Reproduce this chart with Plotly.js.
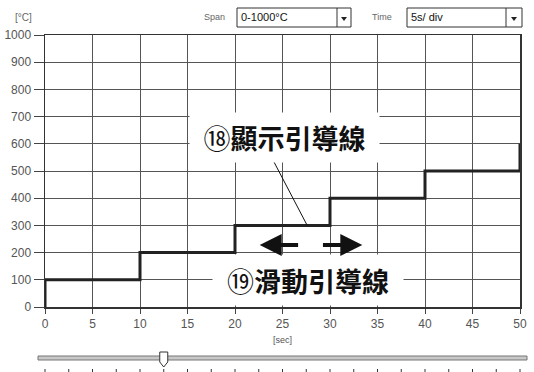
<!DOCTYPE html>
<html>
<head>
<meta charset="utf-8">
<script src="https://cdn.plot.ly/plotly-3.0.1.min.js"></script>
<style>
  html, body { margin: 0; padding: 0; background: #fff; }
  #chart { width: 534px; height: 372px; }
</style>
</head>
<body>
<div id="chart"></div>
<script>
// step profile (sec / degC)
const stepTimes = [0, 0, 10, 20, 30, 40, 50, 50];
const stepTemps = [0, 100, 200, 300, 400, 500, 500, 600];

// dropdown texts
const spanLabel = 'Span';
const spanValue = '0-1000°C';
const timeLabel = 'Time';
const timeValue = '5s/ div';

// callout texts
const cursorNum = '⑱', cursorText = '顯示引導線';
const sliderNum = '⑲', sliderText = '滑動引導線';

// slider scale (sec) and current thumb position
const sliderTicks = [0, 2.5, 5, 7.5, 10, 12.5, 15, 17.5, 20, 22.5, 25, 27.5, 30, 32.5, 35, 37.5, 40, 42.5, 45, 47.5, 50];
const sliderPos = 12.5;

// plot area in pixels: left 45, right 520, top 35, bottom 307
const L = 45, R = 520, T = 35, B = 307;
const px = p => (p - L) / (R - L);
const py = q => (B - q) / (B - T);

const trace = {
    x: stepTimes,
    y: stepTemps,
    mode: 'lines',
    line: { color: '#222', width: 3, shape: 'hv' },
    hoverinfo: 'x+y'
};

const shapes = [];
const annotations = [];
const labelFamily = 'Liberation Sans, Arial, sans-serif';

// plain paper-positioned text
function label(x, y, text, size, color) {
    annotations.push({ xref: 'paper', yref: 'paper', x: px(x), y: py(y),
        xanchor: 'center', yanchor: 'middle', showarrow: false, text: text,
        font: { family: labelFamily, size: size, color: color } });
}

// dropdown boxes
function dropdown(x0, x1, xdiv, name, nameX, value) {
    shapes.push({ type: 'rect', xref: 'paper', yref: 'paper',
        x0: px(x0), x1: px(x1), y0: py(27), y1: py(8),
        line: { color: '#333', width: 1 }, fillcolor: '#fff' });
    shapes.push({ type: 'line', xref: 'paper', yref: 'paper',
        x0: px(xdiv), x1: px(xdiv), y0: py(27), y1: py(8),
        line: { color: '#333', width: 1 } });
    const cx = (xdiv + x1) / 2;
    shapes.push({ type: 'path', xref: 'paper', yref: 'paper',
        path: `M ${px(cx - 3)},${py(17)} L ${px(cx + 3)},${py(17)} L ${px(cx)},${py(21)} Z`,
        fillcolor: '#222', line: { width: 0 } });
    annotations.push({ xref: 'paper', yref: 'paper', x: px(x0 + 2), y: py(17.5),
        xanchor: 'left', yanchor: 'middle', showarrow: false, text: value,
        font: { family: labelFamily, size: 11, color: '#111' } });
    label(nameX, 17, name, 9, '#666');
}
dropdown(237, 351, 337, spanLabel, 214, spanValue);
dropdown(407, 522, 506, timeLabel, 382, timeValue);

// axis unit labels
label(23, 17, '[°C]', 10, '#666');
label(282, 340, '[sec]', 9, '#555');

// leader line from the callout to the step line
shapes.push({ type: 'line', xref: 'x', yref: 'y', x0: 24.0, y0: 540, x1: 27.6, y1: 300,
    line: { color: '#111', width: 1 } });

// callout boxes
const calloutFont = { family: 'Noto Sans CJK TC, sans-serif', size: 27, color: '#111' };
annotations.push({ xref: 'paper', yref: 'paper', x: px(284), y: py(137.5),
    xanchor: 'center', yanchor: 'middle', showarrow: false,
    text: cursorNum + '<b>' + cursorText + '</b>',
    bgcolor: '#fff', width: 189, height: 49, borderpad: 0, font: calloutFont });
annotations.push({ xref: 'paper', yref: 'paper', x: px(308), y: py(280),
    xanchor: 'center', yanchor: 'middle', showarrow: false,
    text: sliderNum + '<b>' + sliderText + '</b>',
    bgcolor: '#fff', width: 190, height: 50, borderpad: 0, font: calloutFont });

// slide direction arrows
[[26.8, 22.6], [29.1, 33.4]].forEach(([tail, tip]) => {
    annotations.push({ xref: 'x', yref: 'y', axref: 'x', ayref: 'y',
        x: tip, y: 228, ax: tail, ay: 228, text: '', showarrow: true,
        arrowhead: 2, arrowsize: 1.1, arrowwidth: 4, arrowcolor: '#111' });
});

// slider rail
shapes.push({ type: 'rect', xref: 'paper', yref: 'paper',
    x0: px(38), x1: px(527), y0: py(360), y1: py(356),
    fillcolor: '#c8c8c8', line: { color: '#777', width: 1 } });
// slider ticks
sliderTicks.forEach(t => {
    const xp = t / 50;
    shapes.push({ type: 'line', xref: 'paper', yref: 'paper',
        x0: xp, x1: xp, y0: py(369), y1: py(372), line: { color: '#333', width: 1 } });
});
// slider thumb
const tx = sliderPos / 50, hw = 4 / (R - L);
shapes.push({ type: 'path', xref: 'paper', yref: 'paper',
    path: `M ${tx - hw},${py(352)} L ${tx + hw},${py(352)} L ${tx + hw},${py(362)} L ${tx},${py(367)} L ${tx - hw},${py(362)} Z`,
    fillcolor: '#fff', line: { color: '#333', width: 1 } });

const tickFont = { family: labelFamily, size: 12, color: '#555' };

const layout = {
    width: 534,
    height: 372,
    margin: { l: L, r: 534 - R, t: T, b: 372 - B },
    paper_bgcolor: '#fff',
    plot_bgcolor: '#fff',
    showlegend: false,
    xaxis: {
        range: [0, 50],
        dtick: 5,
        ticks: 'outside',
        ticklen: 5,
        tickcolor: '#444',
        showline: true,
        mirror: true,
        linecolor: '#333',
        linewidth: 1.5,
        showgrid: true,
        gridcolor: '#555',
        gridwidth: 1,
        zeroline: false,
        tickfont: tickFont,
        fixedrange: true
    },
    yaxis: {
        range: [0, 1000],
        dtick: 100,
        ticks: 'outside',
        ticklen: 10,
        tickcolor: '#444',
        showline: true,
        mirror: true,
        linecolor: '#333',
        linewidth: 1.5,
        showgrid: true,
        gridcolor: '#555',
        gridwidth: 1,
        zeroline: false,
        tickfont: tickFont,
        fixedrange: true
    },
    shapes: shapes,
    annotations: annotations
};

Plotly.newPlot('chart', [trace], layout, { displayModeBar: false, staticPlot: true });
</script>
</body>
</html>
